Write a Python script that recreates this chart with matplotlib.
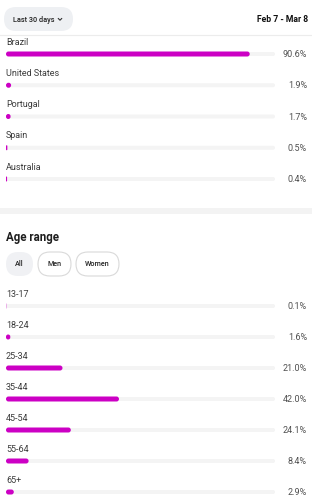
import matplotlib
matplotlib.use("Agg")
import matplotlib.pyplot as plt
from matplotlib.patches import FancyBboxPatch, Rectangle

plt.rcParams['font.family'] = ['Roboto', 'DejaVu Sans']

# ---- data ----
date_range = "Feb 7 - Mar 8"
period_label = "Last 30 days"
countries = ["Brazil", "United States", "Portugal", "Spain", "Australia"]
country_pct = [90.6, 1.9, 1.7, 0.5, 0.4]
age_title = "Age range"
age_filters = ["All", "Men", "Women"]
age_groups = ["13-17", "18-24", "25-34", "35-44", "45-54", "55-64", "65+"]
age_pct = [0.1, 1.6, 21.0, 42.0, 24.1, 8.4, 2.9]

W, H = 312, 500
BAR = "#cc00c4"
TRACK = "#f4f4f4"
LABEL = "#3c3c3c"
PCT = "#505050"

fig = plt.figure(figsize=(W / 100, H / 100), dpi=100)
fig.patch.set_facecolor("white")

# pixel overlay
ov = fig.add_axes([0, 0, 1, 1])
ov.set_xlim(0, W)
ov.set_ylim(H, 0)
ov.axis("off")

# header pill
ov.add_patch(FancyBboxPatch((4, 7), 69, 24, boxstyle="round,pad=0,rounding_size=12",
                            fc="#eef0f3", ec="none"))
ov.text(33.5, 19.5, period_label, ha="center", va="center", fontsize=5.3,
        color="#222222", fontweight="medium")
ov.plot([58.2, 60.0, 61.8], [18.4, 20.2, 18.4], color="#333333", lw=0.8, solid_capstyle="round")
ov.text(308, 19.5, date_range, ha="right", va="center", fontsize=6.2,
        color="#111111", fontweight="bold")
ov.plot([0, W], [35, 35], color="#ececec", lw=0.8)

# section separator
ov.add_patch(Rectangle((0, 208), W, 6, fc="#f3f3f3", ec="none"))

# age title and filters
ov.text(6, 237.5, age_title, ha="left", va="center", fontsize=8.3,
        color="#1e1e1e", fontweight="bold")
btns = [(6, 27), (38, 33), (76, 43)]
for (bx, bw), name in zip(btns, age_filters):
    filled = name == "All"
    ov.add_patch(FancyBboxPatch((bx, 252), bw, 24, boxstyle="round,pad=0,rounding_size=12",
                                fc="#f0f1f4" if filled else "white",
                                ec="none" if filled else "#d9d9d9", lw=0.8))
    ov.text(bx + bw / 2, 264.5, name, ha="center", va="center", fontsize=5.2,
            color="#222222", fontweight="medium")

x0, x1 = 6, 275


def round_bars(ax, bars, radius_px, ux, uy):
    # replace rectangles from barh by rounded ones of the same extent
    aspect = uy / ux
    for p in bars.patches:
        x, y = p.get_x(), p.get_y()
        w, h = p.get_width(), p.get_height()
        r = min(radius_px * ux, w / 2)
        ax.add_patch(FancyBboxPatch((x, y), w, h,
                                    boxstyle=f"round,pad=0,rounding_size={r}",
                                    mutation_aspect=aspect,
                                    fc=p.get_facecolor(), ec="none",
                                    zorder=p.get_zorder()))
        p.set_visible(False)


def bar_axes(y0, dy, names, vals):
    n = len(vals)
    top = y0 - dy / 2
    bot = y0 + (n - 1) * dy + dy / 2
    ax = fig.add_axes([x0 / W, 1 - bot / H, (x1 - x0) / W, (bot - top) / H])
    ax.set_xlim(0, 100)
    ax.set_ylim(n - 0.5, -0.5)
    ax.axis("off")
    ax.patch.set_alpha(0)
    ux = 100 / (x1 - x0)  # data units per pixel (x)
    uy = 1 / dy           # data units per pixel (y)
    ys = list(range(n))
    tr = ax.barh(ys, [100] * n, height=4 * uy, color=TRACK, edgecolor="none", zorder=1)
    br = ax.barh(ys, vals, height=5 * uy, color=BAR, edgecolor="none", zorder=2)
    round_bars(ax, tr, 2.0, ux, uy)
    round_bars(ax, br, 2.5, ux, uy)
    xr = (307 - x0) / (x1 - x0) * 100
    for i, (nm, v) in enumerate(zip(names, vals)):
        ax.text(0, i - 11.8 / dy, nm, ha="left", va="center", fontsize=6.5,
                color=LABEL, clip_on=False)
        ax.text(xr, i + 0.6 / dy, f"{v:.1f}%", ha="right", va="center", fontsize=6.5,
                color=PCT, clip_on=False)
    return ax


bar_axes(54, 31.25, countries, country_pct)
bar_axes(306, 31, age_groups, age_pct)

fig.savefig("out.png", dpi=100, facecolor="white")
